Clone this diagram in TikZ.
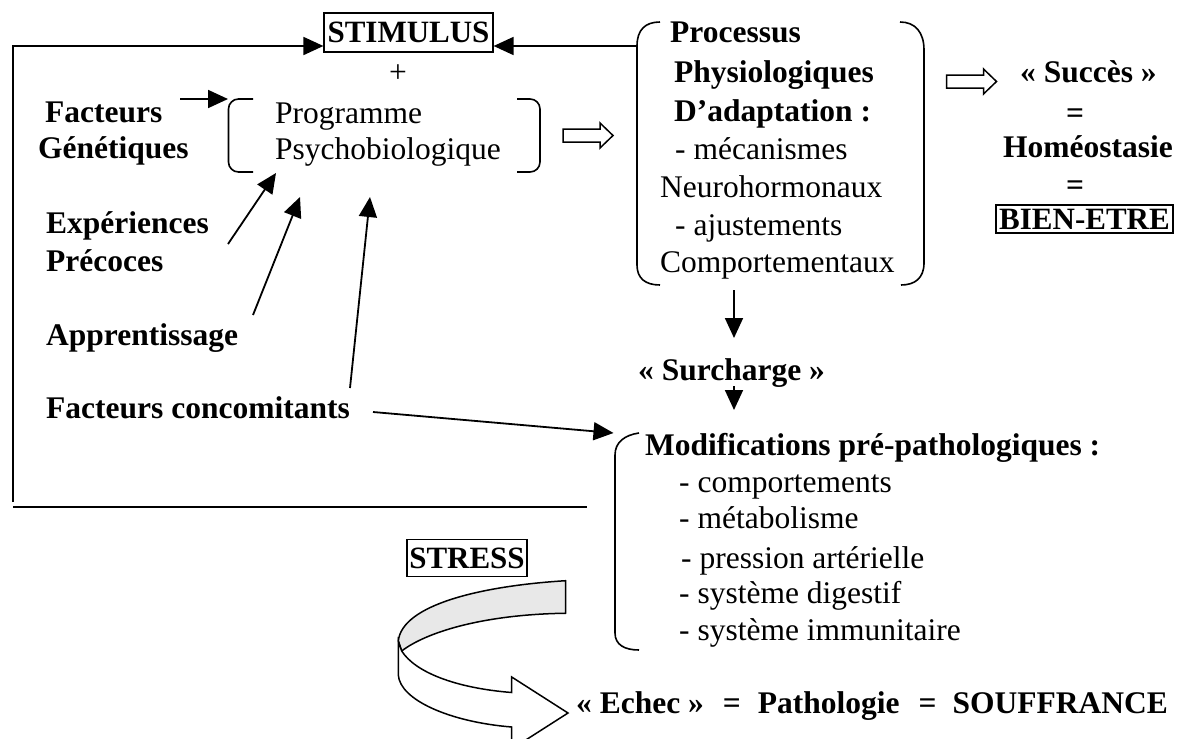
\documentclass[tikz,border=0pt]{standalone}
\usepackage{fontspec}
\setmainfont{Liberation Serif}
\usetikzlibrary{arrows.meta,calc}
\begin{document}
\begin{tikzpicture}[x=1pt,y=-1pt,
  lbl/.style={inner sep=0pt, anchor=base west, font=\fontsize{31.5}{36}\selectfont},
  blbl/.style={lbl, font=\fontsize{31.5}{36}\selectfont\bfseries},
  framed/.style={draw, line width=1.2pt, inner sep=0pt, font=\fontsize{31}{36}\selectfont\bfseries},
  link/.style={line width=1.8pt, -{Triangle[length=20pt,width=18pt]}},
  rule/.style={line width=1.8pt},
  brace/.style={line width=1.6pt},
  hollowarrow/.pic={
    \draw[line width=1.5pt, line join=miter, fill=white]
      (-25,-6.5) -- (12,-6.5) -- (12,-12.5) -- (25,0) -- (12,12.5) -- (12,6.5) -- (-25,6.5) -- cycle;
  }
]
\path[use as bounding box] (0,0) rectangle (1181,739);
\clip (0,0) rectangle (1181,739);

% ---------- stimulus and programme ----------
\node[framed, minimum width=169pt, minimum height=39pt] (stim) at (408.5,32.5) {STIMULUS};
\node[lbl] (plus) at (389,82) {+};

\node[blbl] (fac1) at (45,122) {Facteurs};
\node[blbl] (fac2) at (38,158) {Génétiques};
\node[lbl] (prog1) at (275,123) {Programme};
\node[lbl] (prog2) at (275,159) {Psychobiologique};

\node[blbl] (exp1) at (46,233) {Expériences};
\node[blbl] (exp2) at (46,271) {Précoces};
\node[blbl] (appr) at (46,345) {Apprentissage};
\node[blbl] (fcon) at (46,418) {Facteurs concomitants};

% brackets round the programme
\draw[brace, rounded corners=10pt] (253,99) -- (228.5,99) -- (228.5,172) -- (253,172);
\draw[brace, rounded corners=10pt] (517,99) -- (540,99) -- (540,172) -- (517,172);

% ---------- adaptation processes ----------
\node[blbl] (proc1) at (670,42) {Processus};
\node[blbl] (proc2) at (674,82) {Physiologiques};
\node[blbl] (proc3) at (674,121) {D’adaptation :};
\node[lbl]  (proc4) at (675,159) {- mécanismes};
\node[lbl]  (proc5) at (660,197) {Neurohormonaux};
\node[lbl]  (proc6) at (675,235) {- ajustements};
\node[lbl]  (proc7) at (660,272) {Comportementaux};

\draw[brace] (660,22) .. controls (645,22) and (637,30) .. (637,46) -- (637,265)
  .. controls (637,278) and (645,285) .. (660,285);
\draw[brace] (900,22) .. controls (915,22) and (924,32) .. (924,50) -- (924,263)
  .. controls (924,278) and (915,285) .. (901,285);

% ---------- success ----------
\node[blbl] (succ) at (1020,82) {« Succès »};
\node[blbl] (eq1) at (1066,123) {=};
\node[blbl] (homeo) at (1003,157) {Homéostasie};
\node[blbl] (eq2) at (1066,195) {=};
\node[framed, minimum width=177pt, minimum height=28pt] (bien) at (1084.5,219) {BIEN-ETRE};

\pic at (588,135.5) {hollowarrow};
\pic at (971.5,81.5) {hollowarrow};

% ---------- overload ----------
\node[blbl] (surch) at (638,380) {« Surcharge »};
\node[blbl] (modt) at (645,455) {Modifications pré-pathologiques :};
\node[lbl] (mod1) at (679,492) {- comportements};
\node[lbl] (mod2) at (679,528) {- métabolisme};
\node[lbl] (mod3) at (681,568) {- pression artérielle};
\node[lbl] (mod4) at (679,603) {- système digestif};
\node[lbl] (mod5) at (679,640) {- système immunitaire};

\draw[brace] (639,433) .. controls (625,435) and (615,442) .. (615,455) -- (615,633)
  .. controls (615,645) and (625,650) .. (639,650);

% ---------- failure ----------
\node[framed, minimum width=120pt, minimum height=37.5pt] (stress) at (467,558) {STRESS};
\node[blbl] (echec) at (576,713) {« Echec »\hspace{19pt}=\hspace{17pt}Pathologie\hspace{19pt}=\hspace{16pt}SOUFFRANCE};

% twisted ribbon arrow
\draw[line width=1.5pt, line join=round, fill=gray!18]
  (565.7,580.7) .. controls (480,586) and (402,605) .. (398.3,641)
  -- (401.7,651) .. controls (425,633) and (480,615) .. (562,613.3)
  -- (565.7,613.3) -- cycle;
\draw[line width=1.5pt, line join=miter, fill=white]
  (398.3,641) -- (398.3,675) .. controls (400,700) and (450,722) .. (511.7,727)
  -- (511.7,749) -- (568,713) -- (511.7,677) -- (511.7,692.5)
  .. controls (455,688) and (415,672) .. (401.7,651) -- cycle;

% ---------- connector end points ----------
\coordinate (loopS) at (13,502);
\coordinate (loopC) at (13,46);
\coordinate (procIn) at (635.5,46);
\coordinate (facS) at (180,99);
\coordinate (facT) at (228,99);
\coordinate (expS) at (228,244);
\coordinate (expT) at (276,173);
\coordinate (appS) at (253,315);
\coordinate (appT) at (300,197);
\coordinate (fcS) at (350,388);
\coordinate (fcT) at (370,197);
\coordinate (fcS2) at (373,412);
\coordinate (modIn) at (613.5,433);
\coordinate (procOut) at (734,290);
\coordinate (surchIn) at (734,338);
\coordinate (surchOut) at (734,386);
\coordinate (modTop) at (734,410);
\coordinate (ruleL) at (13,507);
\coordinate (ruleR) at (587,507);

% ---------- connectors ----------
\draw[link] (loopS) -- (loopC) -- (loopC -| stim.west);
\draw[link] (procIn) -- (procIn -| stim.east);
\draw[rule] (ruleL) -- (ruleR);
\draw[link] (facS) -- (facT);
\draw[link] (expS) -- (expT);
\draw[link] (appS) -- (appT);
\draw[link] (fcS) -- (fcT);
\draw[link] (fcS2) -- (modIn);
\draw[link] (procOut) -- (surchIn);
\draw[link] (surchOut) -- (modTop);
\end{tikzpicture}
\end{document}
